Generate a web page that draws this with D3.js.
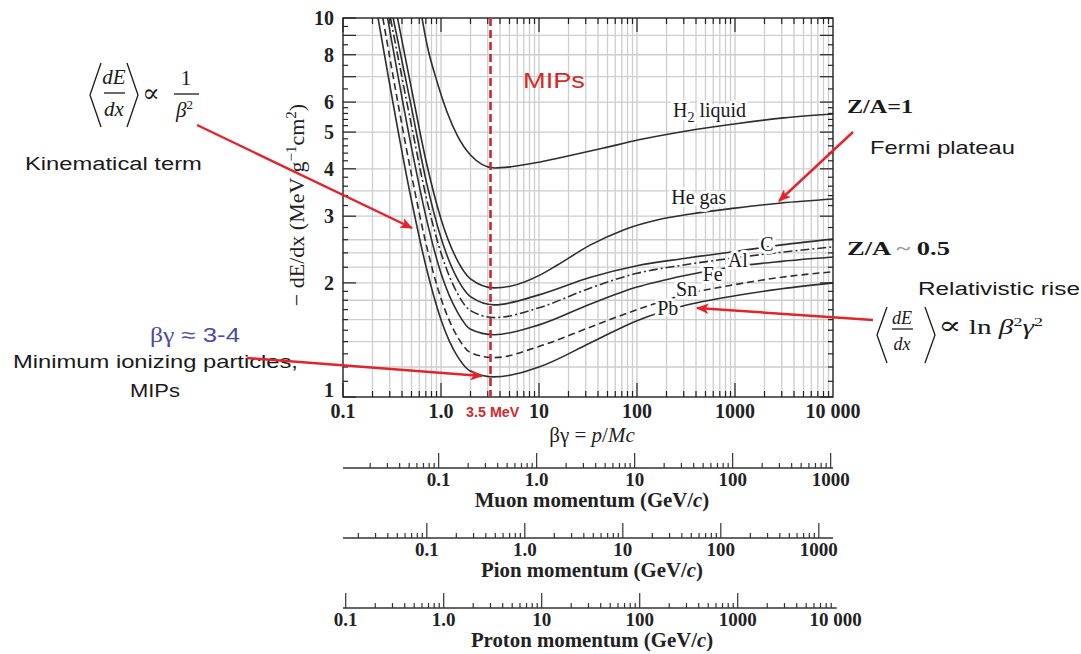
<!DOCTYPE html>
<html>
<head>
<meta charset="utf-8">
<script src="https://cdn.jsdelivr.net/npm/d3@7"></script>
<style>
  body { margin: 0; background: #fff; }
  svg { display: block; }
</style>
</head>
<body>
<svg id="chart" width="1081" height="654"></svg>
<script>
// -dE/dx curves, [beta*gamma, MeV g^-1 cm^2]
const h2Liquid = [[0.64,10],[0.72,8.5],[0.91,6.8],[1.15,5.66],[1.46,4.91],[2.0,4.35],[3.5,4.02],[5.2,4.05],[10.3,4.17],[17.3,4.29],[44.5,4.53],[104,4.77],[299,5.02],[1069,5.27],[3155,5.45],[10000,5.58]];
const heGas    = [[0.36,10],[0.5,6.5],[0.7,4.22],[1.0,2.95],[1.5,2.27],[2.0,2.05],[3.5,1.94],[5.1,1.96],[10.3,2.10],[15.4,2.23],[33.6,2.52],[73,2.76],[160,2.93],[354,3.04],[1000,3.15],[2938,3.25],[10000,3.33]];
const carbon   = [[0.325,10],[0.5,5.8],[0.7,3.75],[1.0,2.63],[1.5,2.03],[2.0,1.84],[3.5,1.75],[10,1.86],[33.6,2.07],[100,2.22],[300,2.32],[1000,2.42],[3000,2.52],[10000,2.61]];
const aluminum = [[0.305,10],[0.5,5.2],[0.7,3.4],[1.0,2.4],[1.5,1.86],[2.0,1.69],[3.5,1.62],[10,1.72],[33.6,1.94],[100,2.12],[300,2.23],[1000,2.33],[3000,2.41],[10000,2.49]];
const iron     = [[0.285,10],[0.5,4.55],[0.7,3.0],[1.0,2.12],[1.5,1.66],[2.0,1.51],[3.5,1.46],[10,1.55],[33.6,1.76],[100,1.95],[300,2.09],[1000,2.21],[3000,2.28],[10000,2.34]];
const tin      = [[0.255,10],[0.5,3.86],[0.7,2.55],[1.0,1.82],[1.5,1.43],[2.0,1.31],[3.5,1.27],[10,1.36],[33.6,1.53],[100,1.70],[300,1.86],[1000,1.98],[3000,2.07],[10000,2.14]];
const lead     = [[0.228,10],[0.5,3.3],[0.7,2.22],[1.0,1.6],[1.5,1.27],[2.0,1.17],[3.5,1.13],[10,1.20],[33.6,1.39],[100,1.59],[300,1.74],[1000,1.85],[3000,1.93],[10000,2.00]];

const materials = ["H2 liquid", "He gas", "C", "Al", "Fe", "Sn", "Pb"];
const mipBetaGamma = 3.2;

const xTicks = [0.1, 1, 10, 100, 1000, 10000];
const xTickLabels = ["0.1", "1.0", "10", "100", "1000", "10 000"];
const yTicks = [1, 2, 3, 4, 5, 6, 8, 10];
const yGrid = [1.2, 1.4, 1.6, 1.8, 2, 2.2, 2.4, 2.6, 3, 3.5, 4, 5, 6, 7, 8, 9];

// momentum scales under the plot, masses in GeV
const particles = ["Muon", "Pion", "Proton"];
const particleMass = [0.10566, 0.13957, 0.93827];
const momentumTicks = [[0.1, 1, 10, 100, 1000], [0.1, 1, 10, 100, 1000], [0.1, 1, 10, 100, 1000, 10000]];
const momentumLabels = [["0.1","1.0","10","100","1000"], ["0.1","1.0","10","100","1000"], ["0.1","1.0","10","100","1000","10 000"]];

const SERIF = "'Liberation Serif','Times New Roman','DejaVu Serif',serif";
const SANS = "'Liberation Sans',Arial,sans-serif";
const RED = "#e3242b";

const svg = d3.select("#chart");
const plot = {left: 343, right: 833, top: 18, bottom: 397};

const x = d3.scaleLog().domain([0.1, 10000]).range([plot.left, plot.right]);
const y = d3.scaleLog().domain([1, 10]).range([plot.bottom, plot.top]);

function minorsOf(lo, hi) {
  const out = [];
  for (let d = Math.pow(10, Math.floor(Math.log10(lo))); d < hi; d *= 10) {
    for (let k = 1; k <= 9; k++) {
      const v = +(d * k).toPrecision(6);
      if (v >= lo * 0.999 && v <= hi * 1.001) out.push(v);
    }
  }
  return out;
}

// grid
const xAll = minorsOf(0.1, 10000);
svg.append("g").selectAll("line").data(xAll.filter(v => v > 0.1 && v < 10000)).join("line")
  .attr("x1", d => x(d)).attr("x2", d => x(d))
  .attr("y1", plot.top).attr("y2", plot.bottom)
  .attr("stroke", "#cdcdcd").attr("stroke-width", 1.3);
svg.append("g").selectAll("line").data(yGrid).join("line")
  .attr("y1", d => y(d)).attr("y2", d => y(d))
  .attr("x1", plot.left).attr("x2", plot.right)
  .attr("stroke", "#cdcdcd").attr("stroke-width", 1.3);

// curves
const curves = [
  {data: h2Liquid, dash: null},
  {data: heGas, dash: null},
  {data: carbon, dash: null},
  {data: aluminum, dash: "9,3,2,3"},
  {data: iron, dash: null},
  {data: tin, dash: "7,4"},
  {data: lead, dash: null}
];

svg.append("clipPath").attr("id", "clip").append("rect")
  .attr("x", plot.left).attr("y", plot.top)
  .attr("width", plot.right - plot.left).attr("height", plot.bottom - plot.top);

const line = d3.line().x(d => x(d[0])).y(d => y(d[1])).curve(d3.curveMonotoneX);
svg.append("g").attr("clip-path", "url(#clip)").selectAll("path").data(curves).join("path")
  .attr("d", d => line(d.data))
  .attr("fill", "none")
  .attr("stroke", "#2e2e2e")
  .attr("stroke-width", 1.6)
  .attr("stroke-dasharray", d => d.dash);

// curve labels (white halo cuts the line like the original)
const labelSpots = [[550, 5.48], [427, 3.23], [2114, 2.43], [1069, 2.2], [593, 2.02], [321, 1.85], [206, 1.65]];
const lab = svg.append("g")
  .attr("font-family", SERIF).attr("font-size", 20).attr("fill", "#1a1a1a")
  .attr("text-anchor", "middle");
materials.forEach((m, i) => {
  const t = lab.append("text")
    .attr("x", x(labelSpots[i][0])).attr("y", y(labelSpots[i][1]))
    .attr("stroke", "#fff").attr("stroke-width", 6).attr("paint-order", "stroke")
    .attr("stroke-linejoin", "round");
  if (m === "H2 liquid") {
    t.append("tspan").text("H");
    t.append("tspan").attr("dy", 5).attr("font-size", 14).text("2");
    t.append("tspan").attr("dy", -5).text(" liquid");
  } else {
    t.text(m);
  }
});

// frame + ticks
svg.append("rect")
  .attr("x", plot.left).attr("y", plot.top)
  .attr("width", plot.right - plot.left).attr("height", plot.bottom - plot.top)
  .attr("fill", "none").attr("stroke", "#222").attr("stroke-width", 1.4);

const tk = svg.append("g").attr("stroke", "#222").attr("stroke-width", 1.2);
xAll.forEach(v => {
  const major = Math.abs(Math.log10(v) - Math.round(Math.log10(v))) < 1e-6;
  const len = major ? 14 : 6;
  tk.append("line").attr("x1", x(v)).attr("x2", x(v)).attr("y1", plot.bottom).attr("y2", plot.bottom - len);
  tk.append("line").attr("x1", x(v)).attr("x2", x(v)).attr("y1", plot.top).attr("y2", plot.top + len);
});
const yMinor = d3.range(1, 2, 0.1).concat(d3.range(2, 6, 0.2), d3.range(6, 10.01, 0.5));
yMinor.forEach(v => {
  const major = Math.abs(v - Math.round(v)) < 1e-6;
  const len = major ? 13 : 5;
  tk.append("line").attr("y1", y(v)).attr("y2", y(v)).attr("x1", plot.left).attr("x2", plot.left + len);
  tk.append("line").attr("y1", y(v)).attr("y2", y(v)).attr("x1", plot.right).attr("x2", plot.right - len);
});

// tick labels
svg.append("g").attr("font-family", SERIF).attr("font-weight", "bold").attr("font-size", 20)
  .attr("fill", "#222").attr("text-anchor", "middle")
  .selectAll("text").data(xTicks).join("text")
  .attr("x", d => x(d)).attr("y", 418)
  .text((d, i) => xTickLabels[i]);
svg.append("g").attr("font-family", SERIF).attr("font-weight", "bold").attr("font-size", 20)
  .attr("fill", "#222").attr("text-anchor", "end")
  .selectAll("text").data(yTicks).join("text")
  .attr("x", plot.left - 9).attr("y", d => d === 1 ? y(d) : y(d) + 7)
  .text(d => d);

// axis titles
const yt = svg.append("text")
  .attr("transform", "translate(304,205) rotate(-90)")
  .attr("font-family", SERIF).attr("font-size", 22).attr("fill", "#222")
  .attr("text-anchor", "middle");
yt.append("tspan").text("\u2212 dE/dx (MeV g");
yt.append("tspan").attr("dy", -8).attr("font-size", 15).text("\u22121");
yt.append("tspan").attr("dy", 8).text("cm");
yt.append("tspan").attr("dy", -8).attr("font-size", 15).text("2");
yt.append("tspan").attr("dy", 8).text(")");

const xt = svg.append("text").attr("x", 592).attr("y", 442)
  .attr("font-family", SERIF).attr("font-size", 21).attr("fill", "#222").attr("text-anchor", "middle");
xt.append("tspan").text("\u03b2\u03b3 = ");
xt.append("tspan").attr("font-style", "italic").text("p");
xt.append("tspan").text("/");
xt.append("tspan").attr("font-style", "italic").text("Mc");

// MIP line
svg.append("line")
  .attr("x1", x(mipBetaGamma)).attr("x2", x(mipBetaGamma))
  .attr("y1", plot.top).attr("y2", plot.bottom)
  .attr("stroke", "#c9282d").attr("stroke-width", 2.6).attr("stroke-dasharray", "8,4");

// momentum axes
const axisY = [468, 538, 608];
particles.forEach((p, i) => {
  const m = particleMass[i];
  const s = d3.scaleLog().domain([0.1 * m, 10000 * m]).range([plot.left, plot.right]);
  const g = svg.append("g");
  const x1 = Math.max(plot.right, s(d3.max(momentumTicks[i])) + 1);
  g.append("line").attr("x1", plot.left).attr("x2", x1).attr("y1", axisY[i]).attr("y2", axisY[i])
    .attr("stroke", "#333").attr("stroke-width", 1.3);
  const lo = 0.1 * m, hi = Math.max(10000 * m, d3.max(momentumTicks[i]));
  minorsOf(lo, hi).forEach(v => {
    const major = momentumTicks[i].some(t => Math.abs(t - v) / t < 1e-6);
    g.append("line").attr("x1", s(v)).attr("x2", s(v))
      .attr("y1", axisY[i]).attr("y2", axisY[i] - (major ? 15 : 5))
      .attr("stroke", "#333").attr("stroke-width", 1.2);
  });
  g.append("g").attr("font-family", SERIF).attr("font-weight", "bold").attr("font-size", 19)
    .attr("fill", "#222").attr("text-anchor", "middle")
    .selectAll("text").data(momentumTicks[i]).join("text")
    .attr("x", d => s(d)).attr("y", axisY[i] + 18)
    .text((d, j) => momentumLabels[i][j]);
  const tt = g.append("text").attr("x", 592).attr("y", axisY[i] + 39)
    .attr("font-family", SERIF).attr("font-weight", "bold").attr("font-size", 20.8)
    .attr("fill", "#222").attr("text-anchor", "middle");
  tt.append("tspan").text(p + " momentum (GeV/");
  tt.append("tspan").attr("font-style", "italic").text("c");
  tt.append("tspan").text(")");
});

// annotation text, stretched to the width seen in the picture
function note(str, left, base, size, width, o = {}) {
  const t = svg.append("text")
    .attr("font-family", o.family || SANS)
    .attr("font-size", size)
    .attr("font-weight", o.weight || "normal")
    .attr("font-style", o.style || "normal")
    .attr("fill", o.fill || "#1a1a1a");
  if (typeof str === "function") str(t); else t.text(str);
  const w = t.node().getBBox().width;
  const k = width ? width / w : 1;
  t.attr("transform", `translate(${left},${base}) scale(${k},1)`);
  return t;
}

note("MIPs", 523, 88, 22, 62, {fill: "#d42a2a"});
note("3.5 MeV", 466, 417, 14, 54, {fill: "#d42a2a", weight: "bold"});
note("Kinematical term", 25, 170, 19, 177);
note("Minimum ionizing particles,", 13, 368, 19, 285);
note("MIPs", 130, 397, 19, 50);
note("Fermi plateau", 870, 154, 19, 145);
note("Relativistic rise", 918, 295, 19, 162);
note(t => {
  t.append("tspan").attr("font-family", SERIF).text("\u03b2\u03b3");
  t.append("tspan").text(" \u2248 3-4");
}, 150, 342, 20, 90, {fill: "#4a4aa8"});
note("Z/A=1", 847, 113, 19, 66, {family: SERIF, weight: "bold"});
note(t => {
  t.append("tspan").text("Z/A ");
  t.append("tspan").attr("fill", "#9a9a9a").text("~");
  t.append("tspan").text(" 0.5");
}, 847, 255, 19, 103, {family: SERIF, weight: "bold"});

// <dE/dx> formulas
function bracketPair(g, xl, xr, top, bot, w) {
  const mid = (top + bot) / 2;
  g.append("path").attr("d", `M${xl + w},${top}L${xl},${mid}L${xl + w},${bot}`).attr("fill", "none");
  g.append("path").attr("d", `M${xr - w},${top}L${xr},${mid}L${xr - w},${bot}`).attr("fill", "none");
}

const f1 = svg.append("g").attr("font-family", SERIF).attr("fill", "#1a1a1a")
  .attr("stroke", "#1a1a1a").attr("stroke-width", 1.3);
bracketPair(f1, 90, 138, 63, 127, 11);
f1.append("line").attr("x1", 104).attr("x2", 125).attr("y1", 93).attr("y2", 93);
f1.append("text").attr("x", 114).attr("y", 84).attr("font-size", 21).attr("font-style", "italic")
  .attr("text-anchor", "middle").attr("stroke", "none").text("dE");
f1.append("text").attr("x", 114).attr("y", 116).attr("font-size", 21).attr("font-style", "italic")
  .attr("text-anchor", "middle").attr("stroke", "none").text("dx");
f1.append("text").attr("x", 151).attr("y", 102).attr("font-size", 26)
  .attr("text-anchor", "middle").attr("stroke", "none").text("\u221d");
f1.append("line").attr("x1", 174).attr("x2", 199).attr("y1", 94).attr("y2", 94);
f1.append("text").attr("x", 186).attr("y", 85).attr("font-size", 21)
  .attr("text-anchor", "middle").attr("stroke", "none").text("1");
const b2 = f1.append("text").attr("x", 176).attr("y", 117).attr("font-size", 21)
  .attr("stroke", "none");
b2.append("tspan").attr("font-style", "italic").text("\u03b2");
b2.append("tspan").attr("dy", -8).attr("font-size", 13).text("2");

const f2 = svg.append("g").attr("font-family", SERIF).attr("fill", "#1a1a1a")
  .attr("stroke", "#1a1a1a").attr("stroke-width", 1.3);
bracketPair(f2, 877, 935, 307, 363, 10);
f2.append("line").attr("x1", 892).attr("x2", 913).attr("y1", 329).attr("y2", 329);
f2.append("text").attr("x", 902).attr("y", 324).attr("font-size", 18).attr("font-style", "italic")
  .attr("text-anchor", "middle").attr("stroke", "none").text("dE");
f2.append("text").attr("x", 902).attr("y", 350).attr("font-size", 18).attr("font-style", "italic")
  .attr("text-anchor", "middle").attr("stroke", "none").text("dx");
note(t => {
  t.append("tspan").attr("font-size", 25).text("\u221d");
  t.append("tspan").text(" ln ");
  t.append("tspan").attr("font-style", "italic").text("\u03b2");
  t.append("tspan").attr("dy", -8).attr("font-size", 13).text("2");
  t.append("tspan").attr("dy", 8).attr("font-style", "italic").text("\u03b3");
  t.append("tspan").attr("dy", -8).attr("font-size", 13).text("2");
}, 938, 334, 21, 105, {family: SERIF});

// red arrows
svg.append("defs").append("marker")
  .attr("id", "head").attr("viewBox", "0 0 12 10").attr("refX", 11).attr("refY", 5)
  .attr("markerWidth", 6).attr("markerHeight", 4.4).attr("orient", "auto")
  .attr("markerUnits", "strokeWidth")
  .append("path").attr("d", "M0,0L12,5L0,10L3,5z").attr("fill", RED);
const arrows = [[197, 125, 412, 228], [247, 358, 482, 376], [853, 132, 779, 201], [873, 320, 697, 308]];
svg.append("g").selectAll("line").data(arrows).join("line")
  .attr("x1", d => d[0]).attr("y1", d => d[1]).attr("x2", d => d[2]).attr("y2", d => d[3])
  .attr("stroke", RED).attr("stroke-width", 2.4).attr("marker-end", "url(#head)");
</script>
</body>
</html>
